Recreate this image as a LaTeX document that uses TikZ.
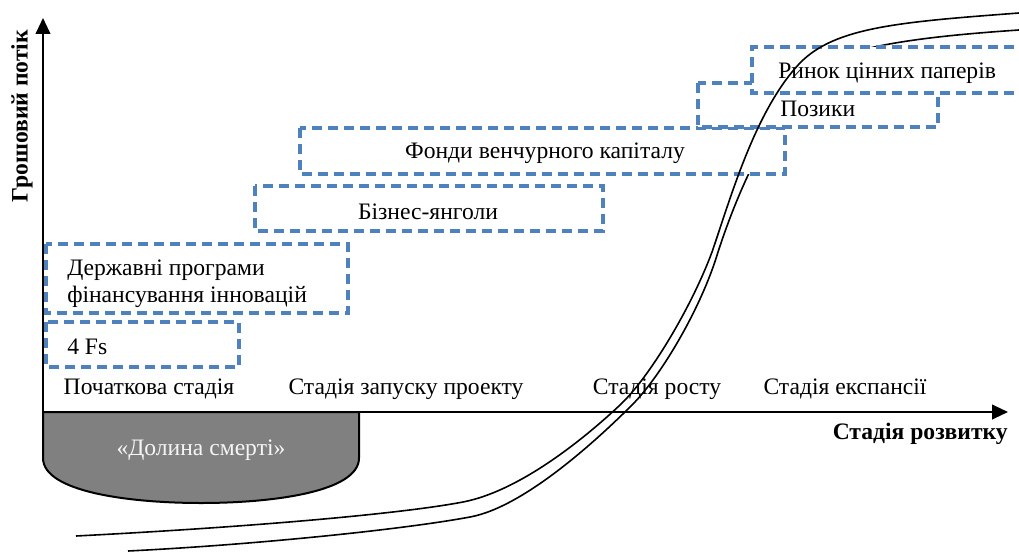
\documentclass[tikz,border=0pt]{standalone}
\usepackage{fontspec}
\setmainfont{Liberation Serif}
\usetikzlibrary{arrows.meta}

\definecolor{boxblue}{RGB}{79,129,189}
\definecolor{valleygray}{RGB}{128,128,128}

\begin{document}
\begin{tikzpicture}[x=0.75pt,y=-0.75pt,
  every node/.style={font=\fontsize{17.7}{21}\selectfont, inner sep=0pt},
  axisline/.style={line width=1.5pt, -{Triangle[length=12pt,width=11pt]}},
  fundbox/.style={draw=boxblue, fill=white, line width=2.5pt, dash pattern=on 7.5pt off 4.5pt},
  scurve/.style={line width=1.2pt},
  axistitle/.style={font=\fontsize{17.7}{21}\selectfont\bfseries}]

  \useasboundingbox (0,0) rectangle (1019,552);
  \clip (0,0) rectangle (1019,552);

  % origin and axis ends
  \coordinate (O)    at (43,412);
  \coordinate (ytip) at (43,18);
  \coordinate (xtip) at (1008,412);

  %--- "valley of death" under the axis ---
  \filldraw[fill=valleygray, line width=1.5pt]
    (43,412) -- (43,458) .. controls (43,492) and (130,503) .. (201,503)
    .. controls (272,503) and (359,492) .. (359,458) -- (359,412) -- cycle;
  \node[text=gray!8] (valley) at (201,450) {«Долина смерті»};

  %--- lower S-curve (partly hidden by the boxes) ---
  \draw[scurve] (128,551) .. controls (250,545) and (400,530) .. (470,517)
    .. controls (525,507) and (600,437) .. (632,405)
    .. controls (662,375) and (702,306) .. (718,252)
    .. controls (735,200) and (770,110) .. (830,60)
    .. controls (870,44) and (930,36) .. (1019,30);

  %--- funding sources ---
  \draw[fundbox] (46,322) rectangle (239,367);
  \node[anchor=west] (fourfs) at (67,347) {4 Fs};

  \draw[fundbox] (46,244) rectangle (348,313);
  \node[anchor=west] (stateA) at (67,270) {Державні програми};
  \node[anchor=west] (stateB) at (67,297) {фінансування інновацій};

  \draw[fundbox] (255,186) rectangle (603,231);
  \node (angels) at (428,212) {Бізнес-янголи};

  \draw[fundbox] (300,128) rectangle (785,174);
  \node (venture) at (545,153) {Фонди венчурного капіталу};

  \draw[fundbox] (698,83) rectangle (938,127);
  \node[anchor=west] (loans) at (780,109) {Позики};

  \draw[fundbox] (1030,47) -- (752,47) -- (752,93) -- (1030,93);
  \node[anchor=west] (market) at (778,73) {Ринок цінних паперів};

  %--- upper S-curve ---
  \draw[scurve] (76,536) .. controls (250,527) and (400,514) .. (463,502)
    .. controls (520,491) and (585,438) .. (620,405)
    .. controls (650,377) and (692,306) .. (712,252)
    .. controls (730,200) and (755,110) .. (800,63)
    .. controls (835,27) and (900,22) .. (1019,13);

  %--- stages ---
  \node (seed)      at (149,389) {Початкова стадія};
  \node (startup)   at (406,389) {Стадія запуску проекту};
  \node (growth)    at (657,389) {Стадія росту};
  \node (expansion) at (845,389) {Стадія експансії};

  %--- axes ---
  \draw[axisline] (O) -- (ytip);
  \draw[axisline] (O) -- (xtip);
  \node[axistitle, anchor=east] (xlabel) at (1008,434) {Стадія розвитку};
  \node[axistitle, rotate=90] (ylabel) at (22,116) {Грошовий потік};

\end{tikzpicture}
\end{document}
